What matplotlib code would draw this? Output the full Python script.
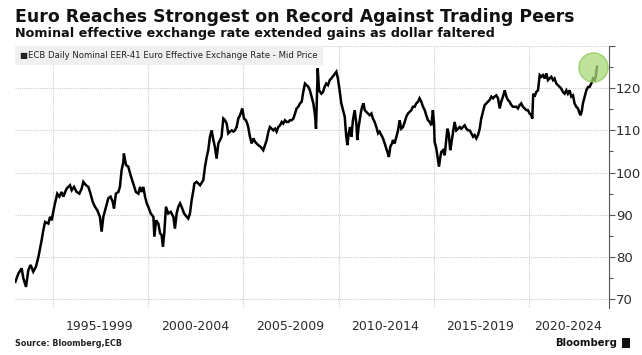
import matplotlib
matplotlib.use("Agg")
import matplotlib.pyplot as plt
from matplotlib.patches import Rectangle

# ---- data (decimal year, index value) ----
years = [
 1993.02,1993.18,1993.35,1993.44,1993.58,1993.70,1993.82,1993.96,1994.10,1994.23,
 1994.40,1994.49,1994.58,1994.75,1994.84,1994.93,1995.01,1995.10,1995.22,1995.33,
 1995.45,1995.54,1995.71,1995.89,1995.98,1996.10,1996.24,1996.38,1996.50,1996.59,
 1996.73,1996.85,1996.94,1997.08,1997.20,1997.32,1997.46,1997.55,1997.64,1997.78,
 1997.90,1998.02,1998.13,1998.20,1998.30,1998.43,1998.51,1998.60,1998.69,1998.72,
 1998.83,1998.95,1999.07,1999.21,1999.35,1999.48,1999.57,1999.65,1999.74,1999.83,
 1999.92,2000.00,2000.13,2000.27,2000.32,2000.41,2000.53,2000.62,2000.70,2000.77,
 2000.84,2000.93,2001.05,2001.18,2001.32,2001.40,2001.49,2001.58,2001.67,2001.75,
 2001.88,2002.02,2002.10,2002.19,2002.28,2002.37,2002.42,2002.54,2002.72,2002.89,
 2002.98,2003.07,2003.15,2003.24,2003.33,2003.42,2003.50,2003.59,2003.68,2003.77,
 2003.85,2003.94,2004.03,2004.12,2004.20,2004.29,2004.38,2004.47,2004.55,2004.64,
 2004.73,2004.82,2004.94,2005.03,2005.13,2005.20,2005.25,2005.34,2005.43,2005.52,
 2005.61,2005.69,2005.78,2005.90,2006.04,2006.13,2006.22,2006.31,2006.39,2006.48,
 2006.57,2006.66,2006.74,2006.83,2006.92,2007.01,2007.09,2007.18,2007.27,2007.36,
 2007.44,2007.53,2007.62,2007.71,2007.79,2007.88,2007.97,2008.06,2008.14,2008.23,
 2008.32,2008.41,2008.49,2008.58,2008.67,2008.76,2008.81,2008.84,2008.90,2008.97,
 2009.09,2009.18,2009.26,2009.35,2009.44,2009.53,2009.61,2009.75,2009.88,2009.96,
 2010.05,2010.14,2010.23,2010.32,2010.40,2010.46,2010.53,2010.60,2010.67,2010.75,
 2010.84,2010.93,2010.98,2011.05,2011.16,2011.23,2011.31,2011.37,2011.45,2011.54,
 2011.63,2011.72,2011.80,2011.89,2011.98,2012.07,2012.15,2012.24,2012.33,2012.42,
 2012.50,2012.59,2012.64,2012.71,2012.80,2012.85,2012.94,2013.03,2013.12,2013.20,
 2013.29,2013.38,2013.47,2013.55,2013.64,2013.73,2013.82,2013.90,2013.99,2014.08,
 2014.17,2014.25,2014.34,2014.43,2014.52,2014.60,2014.69,2014.78,2014.87,2014.95,
 2015.01,2015.04,2015.13,2015.22,2015.27,2015.34,2015.39,2015.48,2015.57,2015.65,
 2015.71,2015.78,2015.86,2015.92,2016.00,2016.09,2016.18,2016.27,2016.36,2016.44,
 2016.53,2016.62,2016.71,2016.79,2016.88,2016.97,2017.06,2017.14,2017.23,2017.32,
 2017.41,2017.49,2017.58,2017.67,2017.76,2017.84,2017.93,2018.02,2018.11,2018.19,
 2018.28,2018.37,2018.46,2018.54,2018.63,2018.72,2018.81,2018.89,2018.98,2019.07,
 2019.16,2019.24,2019.33,2019.42,2019.51,2019.59,2019.68,2019.77,2019.86,2019.94,
 2020.03,2020.12,2020.17,2020.22,2020.29,2020.38,2020.47,2020.56,2020.64,2020.73,
 2020.82,2020.91,2020.99,2021.08,2021.17,2021.26,2021.34,2021.43,2021.52,2021.61,
 2021.69,2021.78,2021.87,2021.96,2022.04,2022.13,2022.22,2022.31,2022.39,2022.48,
 2022.57,2022.66,2022.71,2022.78,2022.83,2022.92,2023.01,2023.10,2023.18,2023.27,
 2023.36,2023.45,2023.50,2023.57,
]
eer41 = [
 74.1,76.1,77.3,74.9,72.9,76.9,78.1,76.5,77.7,80.0,
 84.0,86.4,88.3,87.9,89.5,88.7,90.7,92.7,95.0,94.3,
 95.4,94.3,96.2,97.0,95.8,96.6,95.4,95.0,96.2,97.8,
 97.0,96.6,95.4,93.1,91.9,91.1,89.5,86.0,89.5,91.9,
 93.9,94.3,93.1,91.5,95.0,95.4,96.6,100.6,102.5,104.5,
 101.8,101.4,99.4,97.4,95.4,95.0,96.6,95.4,96.6,94.3,
 92.7,91.9,90.3,89.5,84.8,88.7,87.9,85.6,85.2,82.4,
 85.6,91.9,90.3,90.7,89.5,86.7,90.3,91.9,92.7,91.9,
 90.3,89.5,89.1,90.3,93.5,95.8,97.4,97.8,97.0,98.2,
 101.4,103.7,105.3,108.5,110.0,107.7,106.1,103.3,106.9,107.7,
 108.5,112.8,112.4,111.6,109.3,109.7,110.0,109.7,110.0,110.8,
 112.8,113.6,115.2,112.8,112.4,111.6,110.8,108.5,106.9,108.1,
 107.3,106.9,106.5,106.1,105.3,106.5,107.7,109.7,110.8,110.4,
 110.0,110.4,109.7,110.8,111.2,112.0,111.6,112.4,112.0,112.0,
 112.4,112.4,112.8,114.0,115.2,115.6,116.4,116.8,119.1,121.1,
 120.7,120.3,119.5,118.0,116.4,113.6,110.4,114.8,124.7,119.5,
 118.7,119.1,120.3,121.1,120.7,121.9,122.3,123.1,123.9,122.3,
 119.5,116.4,114.8,113.2,108.5,106.5,109.3,110.8,108.5,112.4,
 114.8,111.6,107.7,110.8,114.0,115.6,116.4,114.8,114.4,114.0,
 113.6,114.0,112.8,112.0,110.8,109.3,109.7,108.9,108.1,106.9,
 105.7,104.5,103.7,106.1,106.9,107.7,106.9,108.5,110.0,112.4,
 110.4,110.8,112.0,113.2,114.0,114.4,114.8,115.6,115.6,116.4,
 116.8,117.6,116.8,115.6,114.8,113.6,112.4,112.0,111.2,114.8,
 111.6,107.3,105.7,102.9,101.4,103.7,104.9,105.3,104.1,107.7,
 110.4,109.3,105.3,106.9,109.3,112.0,110.0,110.4,110.8,110.4,
 110.8,111.2,110.4,110.0,110.0,109.3,108.5,108.9,108.1,108.9,
 110.4,112.8,114.4,116.0,116.4,116.8,117.2,118.0,117.6,118.0,
 118.3,117.6,115.2,116.8,118.0,119.5,118.0,117.2,116.8,116.0,
 115.6,115.6,115.6,115.2,116.0,116.4,115.6,115.2,114.8,114.8,
 114.0,113.6,112.8,118.7,118.0,119.1,119.5,123.1,122.7,123.1,
 122.3,123.5,121.9,122.3,122.7,121.9,122.3,121.1,120.7,120.3,
 119.9,119.1,118.7,119.5,118.7,119.5,118.0,118.3,116.4,115.6,
 115.2,114.0,113.6,114.8,116.4,118.0,119.5,120.3,120.3,121.1,
 122.3,121.9,122.7,125.1,
]
period_starts = [1995, 2000, 2005, 2010, 2015, 2020]
period_labels = ["1995-1999", "2000-2004", "2005-2009", "2010-2014", "2015-2019", "2020-2024"]
y_ticks = [70, 80, 90, 100, 110, 120, 130]
series_name = "ECB Daily Nominal EER-41 Euro Effective Exchange Rate - Mid Price"
title = "Euro Reaches Strongest on Record Against Trading Peers"
subtitle = "Nominal effective exchange rate extended gains as dollar faltered"
source = "Source: Bloomberg,ECB"

W, H = 642, 355
fig = plt.figure(figsize=(W / 100, H / 100), dpi=100)
fig.patch.set_facecolor("white")
ax = fig.add_axes([15 / W, 47 / H, 594 / W, 262 / H])
ax.set_facecolor("white")

renderer = fig.canvas.get_renderer()

def fit(t, width_px):
    bb = t.get_window_extent(renderer=renderer)
    t.set_fontsize(t.get_fontsize() * width_px / bb.width)
    return t

# main line
ax.plot(years, eer41, color="black", lw=1.8, solid_joinstyle="miter", zorder=3)

# highlight circle at the latest value
ax.scatter([years[-1] - 0.2], [eer41[-1]], s=440, color="#a8d977", alpha=0.75,
           edgecolors="#8cc455", linewidths=1.0, zorder=4)

ax.set_xlim(1993.0, 2024.2)
ax.set_ylim(67.9, 130)

# grid
ax.set_xticks(period_starts, minor=True)
ax.set_xticks([p + 2.45 for p in period_starts[:-1]] + [period_starts[-1] + 2.05])
ax.set_xticklabels(period_labels)
ax.tick_params(axis="x", which="both", length=0, pad=9, labelsize=9, labelcolor="#2b2b2b")
ax.grid(axis="x", which="minor", color="#cccccc", ls=(0, (1, 1)), lw=0.8)
ax.set_yticks(y_ticks)
ax.set_yticklabels([str(v) if v != 130 else "" for v in y_ticks])
ax.set_yticks([75, 85, 95, 105, 115, 125], minor=True)
ax.yaxis.tick_right()
ax.tick_params(axis="y", which="major", length=4, width=0.8, color="#555555",
               labelsize=9.5, labelcolor="#2b2b2b", pad=1)
ax.tick_params(axis="y", which="minor", length=3, width=0.8, color="#555555")
ax.grid(axis="y", which="major", color="#cccccc", ls=(0, (1, 1)), lw=0.8)
for s in ["left", "top", "bottom"]:
    ax.spines[s].set_visible(False)
ax.spines["right"].set_color("#555555")
ax.spines["right"].set_linewidth(0.8)

# legend band
ax.add_patch(Rectangle((15 / W, (H - 65) / H), (323 - 15) / W, 19 / H,
                       transform=fig.transFigure, facecolor="#f0f0f0",
                       edgecolor="none", zorder=5))
leg = fig.text(20 / W, (H - 55.5) / H, "■" + series_name, fontsize=7, color="#222222",
               va="center", ha="left", zorder=6)
fit(leg, 297)

# titles
t1 = fig.text(15 / W, (H - 17) / H, title, fontsize=14, fontweight="bold",
              color="#111111", va="center", ha="left")
fit(t1, 558)
t2 = fig.text(15 / W, (H - 34) / H, subtitle, fontsize=11, fontweight="bold",
              color="#111111", va="center", ha="left")
fit(t2, 475)

# footer
t3 = fig.text(15 / W, (H - 343) / H, source, fontsize=7.5, fontweight="bold",
              color="#222222", va="center", ha="left")
fit(t3, 107)
t4 = fig.text(617 / W, (H - 343) / H, "Bloomberg", fontsize=10, fontweight="semibold",
              color="#111111", va="center", ha="right")
fit(t4, 62)
fig.add_artist(Rectangle((622 / W, (H - 348) / H), 8 / W, 10 / H,
                         transform=fig.transFigure, facecolor="#111111", edgecolor="none"))

fig.savefig("out.png", dpi=100, facecolor="white")
